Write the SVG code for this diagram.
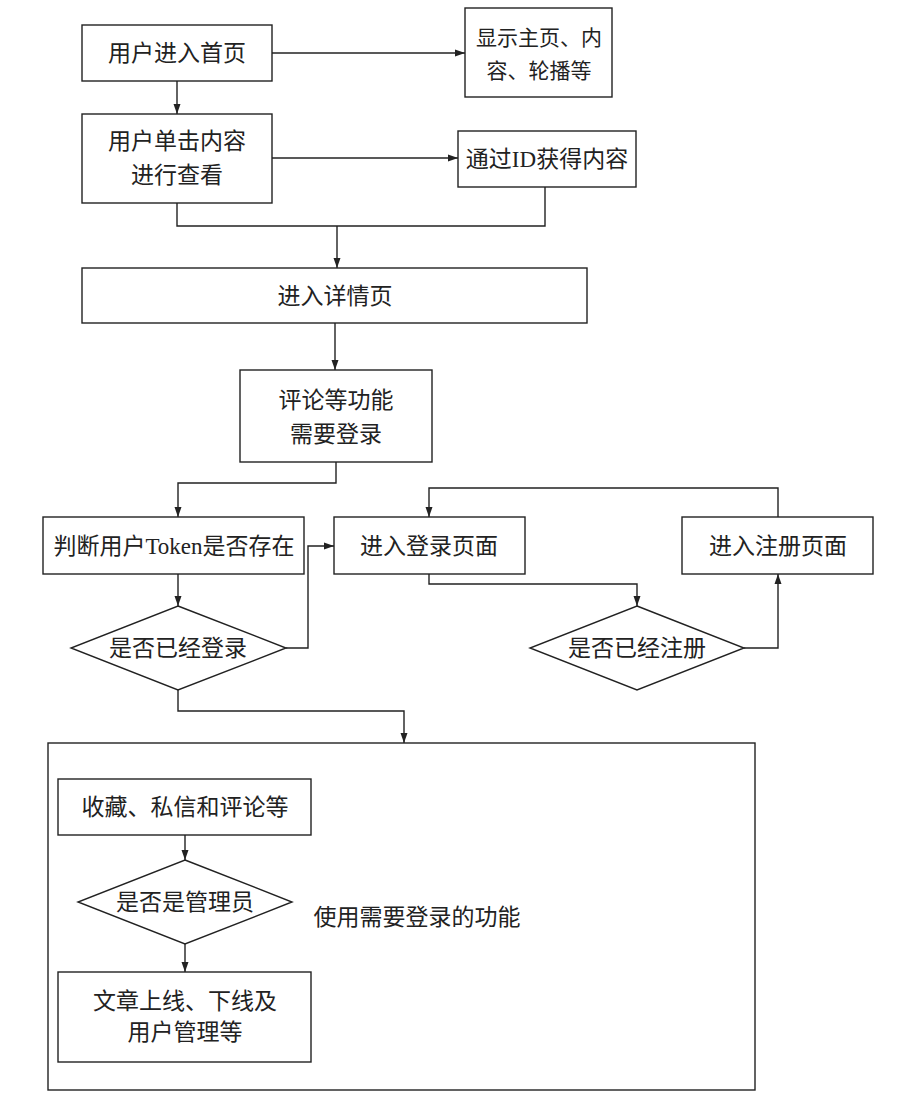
<svg xmlns="http://www.w3.org/2000/svg" width="916" height="1099" viewBox="0 0 916 1099">
<style>
.n{fill:#fff;stroke:#222;stroke-width:1.4}
.t{font-family:"Liberation Serif","Noto Sans CJK SC",serif;font-size:23px;fill:#222;text-anchor:middle}
.s{font-size:21px}
.c{fill:none;stroke:#222;stroke-width:1.4}
</style>
<defs>
<marker id="ah" viewBox="0 0 10 10" refX="10" refY="5" markerWidth="10" markerHeight="10" markerUnits="userSpaceOnUse" orient="auto">
<path d="M0,1.5 L10,5 L0,8.5 Z" fill="#222"/>
</marker>
</defs>
<rect width="916" height="1099" fill="#fff"/>
<g id="container"><rect class="n" x="48" y="743" width="707" height="347"/></g>
<g id="connectors">
<path class="c" d="M272,53 H465" marker-end="url(#ah)"/>
<path class="c" d="M177,81 V114" marker-end="url(#ah)"/>
<path class="c" d="M272,158 H458" marker-end="url(#ah)"/>
<path class="c" d="M177,203 V226 H545 V187"/>
<path class="c" d="M337,226 V268" marker-end="url(#ah)"/>
<path class="c" d="M335,323 V370" marker-end="url(#ah)"/>
<path class="c" d="M336,462 V483 H178 V517" marker-end="url(#ah)"/>
<path class="c" d="M178,574 V606" marker-end="url(#ah)"/>
<path class="c" d="M286,648 H308 V546 H334" marker-end="url(#ah)"/>
<path class="c" d="M429,574 V584 H637 V606" marker-end="url(#ah)"/>
<path class="c" d="M744,648 H778 V574" marker-end="url(#ah)"/>
<path class="c" d="M778,517 V488 H429 V517" marker-end="url(#ah)"/>
<path class="c" d="M178,690 V711 H404 V743" marker-end="url(#ah)"/>
<path class="c" d="M185,835 V860" marker-end="url(#ah)"/>
<path class="c" d="M185,944 V972" marker-end="url(#ah)"/>
</g>
<g id="n1"><rect class="n" x="82" y="25" width="190" height="56"/><text class="t" x="177" y="61">用户进入首页</text></g>
<g id="n2"><rect class="n" x="465" y="8" width="147" height="89"/><text class="t s" x="539" y="45">显示主页、内</text><text class="t s" x="539" y="78">容、轮播等</text></g>
<g id="n3"><rect class="n" x="82" y="114" width="190" height="89"/><text class="t" x="177" y="149">用户单击内容</text><text class="t" x="177" y="183">进行查看</text></g>
<g id="n4"><rect class="n" x="458" y="131" width="178" height="56"/><text class="t" x="547" y="167">通过ID获得内容</text></g>
<g id="n5"><rect class="n" x="82" y="268" width="505" height="55"/><text class="t" x="335" y="304">进入详情页</text></g>
<g id="n6"><rect class="n" x="240" y="370" width="192" height="92"/><text class="t" x="336" y="408">评论等功能</text><text class="t" x="336" y="442">需要登录</text></g>
<g id="n7"><rect class="n" x="43" y="517" width="261" height="57"/><text class="t" x="174" y="554">判断用户Token是否存在</text></g>
<g id="n8"><polygon class="n" points="178,606 286,648 178,690 71,648"/><text class="t" x="178" y="656">是否已经登录</text></g>
<g id="n9"><rect class="n" x="334" y="517" width="191" height="57"/><text class="t" x="429" y="554">进入登录页面</text></g>
<g id="n10"><polygon class="n" points="637,606 744,648 637,690 530,648"/><text class="t" x="637" y="656">是否已经注册</text></g>
<g id="n11"><rect class="n" x="682" y="517" width="191" height="57"/><text class="t" x="778" y="554">进入注册页面</text></g>
<g id="n12"><rect class="n" x="58" y="779" width="253" height="56"/><text class="t" x="185" y="815">收藏、私信和评论等</text></g>
<g id="n13"><polygon class="n" points="185,860 292,902 185,944 78,902"/><text class="t" x="185" y="910">是否是管理员</text></g>
<g id="n14"><rect class="n" x="58" y="972" width="253" height="90"/><text class="t" x="185" y="1009">文章上线、下线及</text><text class="t" x="185" y="1040">用户管理等</text></g>
<g id="label"><text class="t" x="417" y="925">使用需要登录的功能</text></g>
</svg>
